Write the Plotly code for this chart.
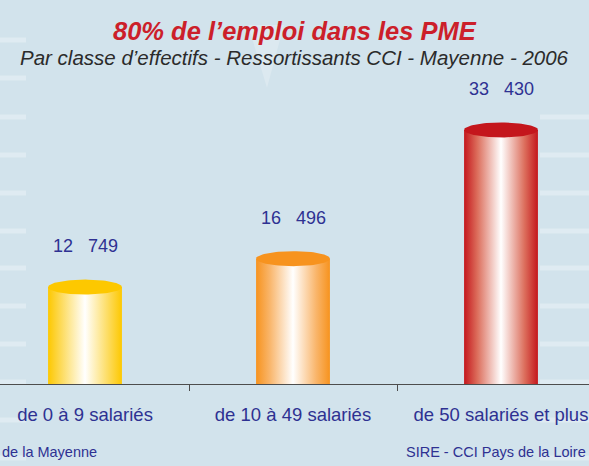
import plotly.graph_objects as go
import numpy as np

categories = ["de 0 à 9 salariés", "de 10 à 49 salariés", "de 50 salariés et plus"]
values = [12749, 16496, 33430]
edge_colors = ["#fdc800", "#f7931e", "#c4161c"]
mid_colors = ["#fddb5c", "#f9b468", "#dc6e5c"]
title_text = "80% de l’emploi dans les PME"
subtitle_text = "Par classe d’effectifs - Ressortissants CCI - Mayenne - 2006"
source_left = "de la Mayenne"
source_right = "SIRE - CCI Pays de la Loire"

W, H = 589, 466
T, B = 80, 82
PX_PER_CAT = 208.0
X0_PX = 85.0
YMAX = 40000
BAR_W = 0.355
plot_h = H - T - B
ypx = plot_h / YMAX
ELL_B = 7.5 / ypx

BG = "#d2e3ec"
TXT = "#2e3192"

fig = go.Figure()

for i, (v, ec, mc) in enumerate(zip(values, edge_colors, mid_colors)):
    x0, x1 = i - BAR_W / 2, i + BAR_W / 2
    fig.add_trace(go.Scatter(
        x=[x0, x1, x1, x0, x0], y=[0, 0, v, v, 0],
        mode="lines", line=dict(width=0), fill="toself",
        fillgradient=dict(type="horizontal",
                          colorscale=[[0, ec], [0.18, mc], [0.5, "#ffffff"], [0.82, mc], [1, ec]]),
        hoverinfo="skip", showlegend=False))
    t = np.linspace(0, 2 * np.pi, 90)
    fig.add_trace(go.Scatter(
        x=i + (BAR_W / 2) * np.cos(t), y=v + ELL_B * np.sin(t),
        mode="lines", line=dict(width=0), fill="toself", fillcolor=ec,
        hoverinfo="skip", showlegend=False))
    fig.add_annotation(x=i, y=v, xref="x", yref="y", yshift=41,
                       xanchor="center", yanchor="middle",
                       text=f"{v:,}".replace(",", "\u00a0\u00a0\u00a0"), showarrow=False,
                       font=dict(size=18, color=TXT))

shapes = []
stripe_px = [40, 78, 117, 155, 193, 231, 268, 306, 344, 382, 420, 458]
for py in stripe_px:
    y0 = (H - B - py - 2.5) / plot_h
    y1 = (H - B - py + 2.5) / plot_h
    shapes.append(dict(type="rect", xref="paper", yref="paper", x0=0, x1=26 / W, y0=y0, y1=y1,
                       fillcolor="white", opacity=0.3, line=dict(width=0), layer="below"))
    if py > 100:
        shapes.append(dict(type="rect", xref="paper", yref="paper", x0=540 / W, x1=1, y0=y0, y1=y1,
                           fillcolor="white", opacity=0.3, line=dict(width=0), layer="below"))
def pp(px, py):
    return f"{px / W:.4f},{(H - B - py) / plot_h:.4f}"
shapes.append(dict(type="path", xref="paper", yref="paper",
                   path=f"M{pp(248, 25)} L{pp(284, 25)} L{pp(267, 88)} Z",
                   fillcolor="white", opacity=0.22, line=dict(width=0), layer="below"))

def pay(py):
    return (H - B - py) / plot_h

fig.add_annotation(x=0.5, y=pay(31), xref="paper", yref="paper",
                   xanchor="center", yanchor="middle",
                   text=f"<b><i>{title_text}</i></b>", showarrow=False,
                   font=dict(size=25.5, color="#cc1f2a", family="Liberation Sans, Arial"))
fig.add_annotation(x=0.5, y=pay(57), xref="paper", yref="paper",
                   xanchor="center", yanchor="middle",
                   text=f"<i>{subtitle_text}</i>", showarrow=False,
                   font=dict(size=20.5, color="#2b2b2b", family="Liberation Sans, Arial"))
fig.add_annotation(x=0, y=pay(452), xref="paper", yref="paper",
                   xanchor="left", yanchor="middle", text=source_left, showarrow=False,
                   font=dict(size=14.5, color=TXT))
fig.add_annotation(x=588 / W, y=pay(452), xref="paper", yref="paper",
                   xanchor="right", yanchor="middle", text=source_right, showarrow=False,
                   font=dict(size=14.5, color=TXT))

fig.update_layout(
    width=W, height=H,
    margin=dict(l=0, r=0, t=T, b=B, pad=0),
    paper_bgcolor=BG, plot_bgcolor=BG,
    font=dict(family="Liberation Sans, Arial", color=TXT),
    shapes=shapes,
    showlegend=False,
    xaxis=dict(type="linear", range=[-X0_PX / PX_PER_CAT, (W - X0_PX) / PX_PER_CAT],
               tickvals=[0, 1, 2], ticktext=categories, ticks="",
               tickfont=dict(size=18.5, color=TXT), ticklabelstandoff=14,
               showline=True, linecolor="#4d4d4d", linewidth=1,
               showgrid=False, zeroline=False, fixedrange=True,
               minor=dict(tick0=0.5, dtick=1, ticks="outside", ticklen=6,
                          tickcolor="#4d4d4d", showgrid=False)),
    yaxis=dict(range=[0, YMAX], visible=False, showgrid=False, zeroline=False, fixedrange=True),
)

fig.write_html("out.html", config={"displayModeBar": False},
               post_script="document.body.style.margin='0';")
